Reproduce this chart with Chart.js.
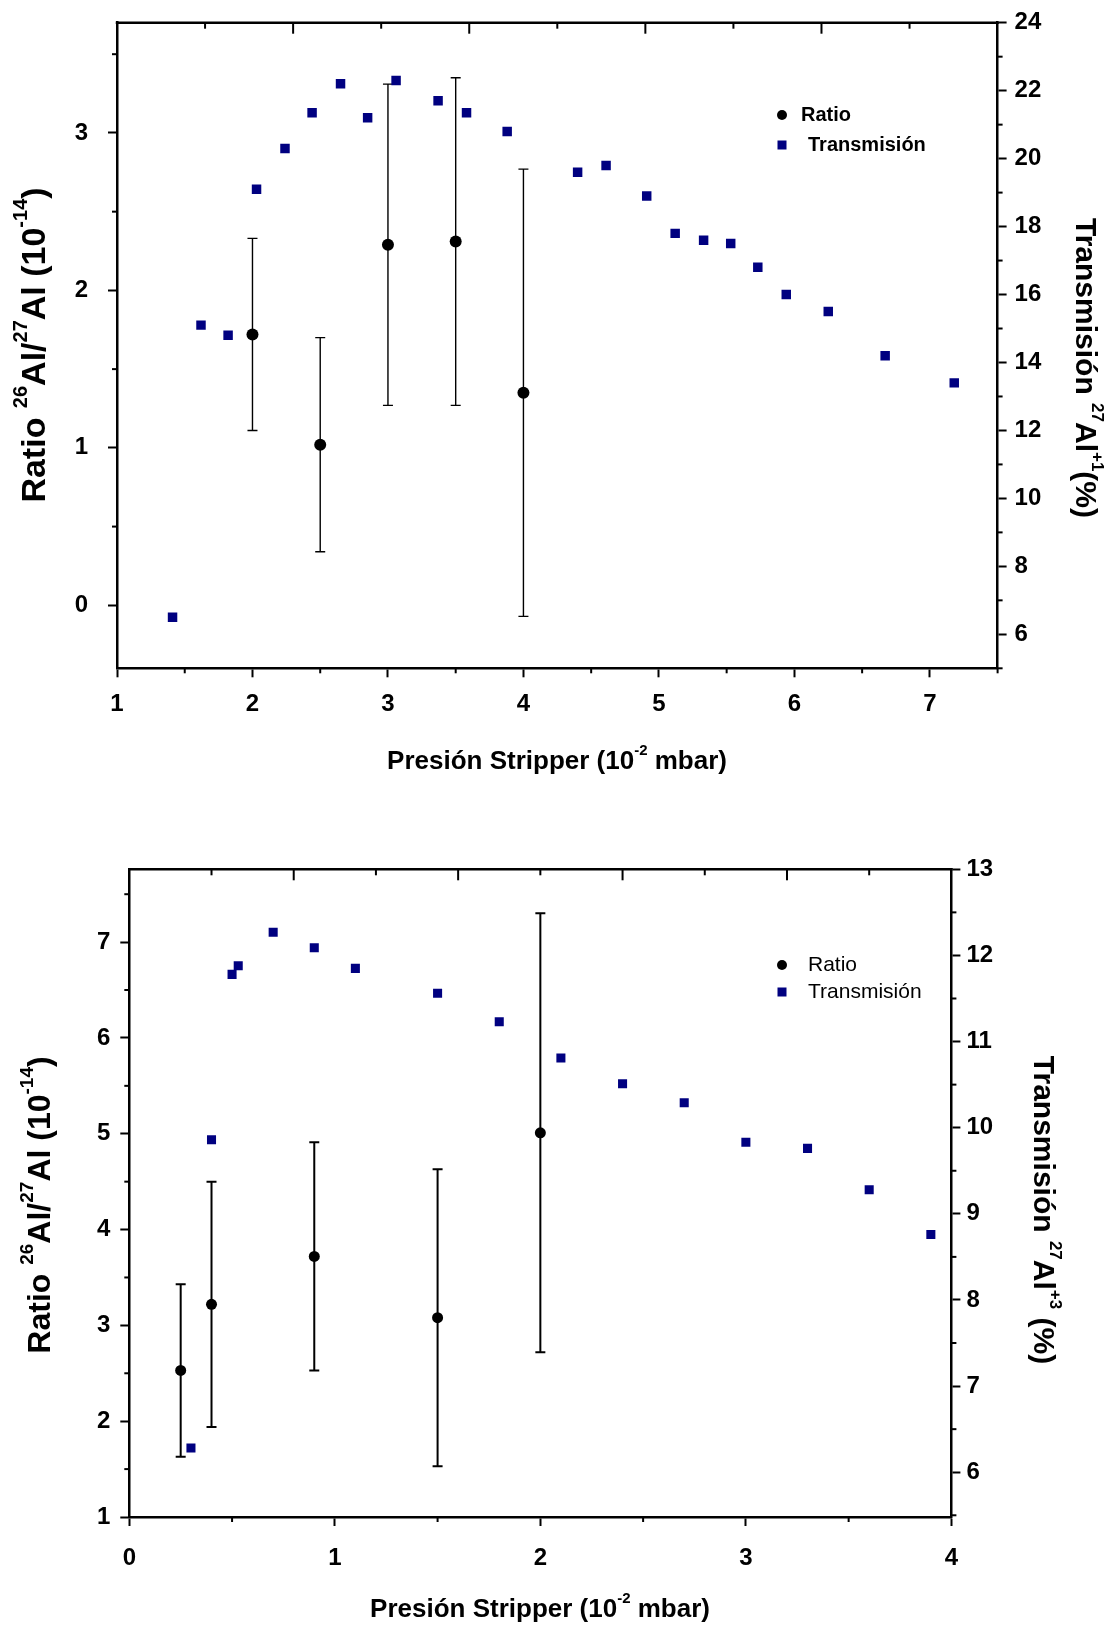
<!DOCTYPE html>
<html>
<head>
<meta charset="utf-8">
<script src="https://cdn.jsdelivr.net/npm/chart.js@4.4.1/dist/chart.umd.min.js"></script>
<style>
  body { margin: 0; background: #fff; }
  canvas { display: block; }
</style>
</head>
<body>
<canvas id="chartTop" width="1115" height="800"></canvas>
<canvas id="chartBottom" width="1115" height="827"></canvas>
<script>
// ---- data: upper panel (27Al+1) ----
const topRatioX   = [2.0, 2.5, 3.0, 3.5, 4.0];
const topRatio    = [1.72, 1.02, 2.29, 2.31, 1.35];
const topRatioErr = [0.61, 0.68, 1.02, 1.04, 1.42];
const topTransX   = [1.41, 1.62, 1.82, 2.03, 2.24, 2.44, 2.65, 2.85, 3.06, 3.37, 3.58, 3.88,
                     4.40, 4.61, 4.91, 5.12, 5.33, 5.53, 5.73, 5.94, 6.25, 6.67, 7.18];
const topTrans    = [6.5, 15.1, 14.8, 19.1, 20.3, 21.35, 22.2, 21.2, 22.3, 21.7, 21.35, 20.8,
                     19.6, 19.8, 18.9, 17.8, 17.6, 17.5, 16.8, 16.0, 15.5, 14.2, 13.4];
const topXTicks   = [1, 2, 3, 4, 5, 6, 7];
const topYTicks   = [0, 1, 2, 3];
const topY1Ticks  = [6, 8, 10, 12, 14, 16, 18, 20, 22, 24];

// ---- data: lower panel (27Al+3) ----
const botRatioX   = [0.25, 0.4, 0.9, 1.5, 2.0];
const botRatio    = [2.53, 3.22, 3.72, 3.08, 5.01];
const botRatioErr = [0.90, 1.28, 1.19, 1.55, 2.29];
const botTransX   = [0.3, 0.4, 0.5, 0.53, 0.7, 0.9, 1.1, 1.5, 1.8, 2.1, 2.4, 2.7, 3.0, 3.3, 3.6, 3.9];
const botTrans    = [6.28, 9.86, 11.78, 11.88, 12.27, 12.09, 11.85, 11.56, 11.23, 10.81, 10.51,
                     10.29, 9.83, 9.76, 9.28, 8.76];
const botXTicks   = [0, 1, 2, 3, 4];
const botYTicks   = [1, 2, 3, 4, 5, 6, 7];
const botY1Ticks  = [6, 7, 8, 9, 10, 11, 12, 13];

// axis titles, split so the superscripts can be raised
const xTitle = [{t: 'Presión Stripper (10'}, {t: '-2', sup: true}, {t: ' mbar)'}];
const yTitle = [{t: 'Ratio '}, {t: '26', sup: true}, {t: 'Al/'}, {t: '27', sup: true},
                {t: 'Al (10'}, {t: '-14', sup: true}, {t: ')'}];
const y1TitleTop = [{t: 'Transmisión '}, {t: '27', sup: true}, {t: 'Al'}, {t: '+1', sup: true}, {t: '(%)'}];
const y1TitleBot = [{t: 'Transmisión '}, {t: '27', sup: true}, {t: 'Al'}, {t: '+3', sup: true}, {t: ' (%)'}];

const FAMILY = '"Liberation Sans", Arial, sans-serif';
const NAVY = '#000080';

function drawRich(ctx, parts, size, x, y, angle) {
  ctx.save();
  ctx.translate(x, y);
  ctx.rotate(angle);
  ctx.textBaseline = 'middle';
  ctx.textAlign = 'left';
  ctx.fillStyle = '#000';
  const fontOf = p => 'bold ' + (p.sup ? Math.round(size * 0.58) : size) + 'px ' + FAMILY;
  let total = 0;
  parts.forEach(p => { ctx.font = fontOf(p); total += ctx.measureText(p.t).width; });
  let cx = -total / 2;
  parts.forEach(p => {
    ctx.font = fontOf(p);
    ctx.fillText(p.t, cx, p.sup ? -size * 0.42 : 0);
    cx += ctx.measureText(p.t).width;
  });
  ctx.restore();
}

// minor ticks, inward top ticks, top border, error bars, legend and titles
function makeDecor(spec) {
  return {
    id: 'decor',
    beforeDatasetsDraw(chart) {
      const ctx = chart.ctx, x = chart.scales.x, y = chart.scales.y;
      ctx.save();
      ctx.strokeStyle = '#000';
      ctx.lineWidth = spec.errWidth;
      spec.ratioX.forEach((xv, i) => {
        const px = x.getPixelForValue(xv);
        const top = y.getPixelForValue(spec.ratio[i] + spec.err[i]);
        const bot = y.getPixelForValue(spec.ratio[i] - spec.err[i]);
        ctx.beginPath();
        ctx.moveTo(px, top); ctx.lineTo(px, bot);
        ctx.moveTo(px - 5, top); ctx.lineTo(px + 5, top);
        ctx.moveTo(px - 5, bot); ctx.lineTo(px + 5, bot);
        ctx.stroke();
      });
      ctx.restore();
    },
    afterDraw(chart) {
      const ctx = chart.ctx, a = chart.chartArea;
      const x = chart.scales.x, y = chart.scales.y, y1 = chart.scales.y1;
      ctx.save();
      ctx.strokeStyle = '#000';
      ctx.lineWidth = 2.5;
      // top border
      ctx.beginPath();
      ctx.moveTo(a.left - 1.25, a.top); ctx.lineTo(a.right + 1.25, a.top);
      ctx.stroke();
      // inward ticks on the top border, 10 divisions
      ctx.lineWidth = 2;
      for (let k = 1; k < 10; k++) {
        const px = a.left + (a.right - a.left) * k / 10;
        ctx.beginPath();
        ctx.moveTo(px, a.top); ctx.lineTo(px, a.top + (k % 2 ? 6 : 11));
        ctx.stroke();
      }
      // minor ticks
      const minor = (scale, step, fn) => {
        const start = Math.ceil((scale.min - step / 2) / step) * step + step / 2;
        for (let v = start; v <= scale.max + 1e-9; v += step) fn(scale.getPixelForValue(v));
      };
      minor(x, 1, px => { ctx.beginPath(); ctx.moveTo(px, a.bottom); ctx.lineTo(px, a.bottom + 5); ctx.stroke(); });
      minor(y, 1, py => { ctx.beginPath(); ctx.moveTo(a.left, py); ctx.lineTo(a.left - 5, py); ctx.stroke(); });
      minor(y1, spec.y1Step, py => { ctx.beginPath(); ctx.moveTo(a.right, py); ctx.lineTo(a.right + 5, py); ctx.stroke(); });

      // legend
      const lg = spec.legend;
      ctx.fillStyle = '#000';
      ctx.beginPath();
      ctx.arc(lg.x, lg.y1, 5, 0, Math.PI * 2);
      ctx.fill();
      ctx.fillStyle = NAVY;
      ctx.fillRect(lg.x - 4.5, lg.y2 - 4.5, 9, 9);
      ctx.fillStyle = '#000';
      ctx.font = lg.font;
      ctx.textBaseline = 'middle';
      ctx.textAlign = 'left';
      ctx.fillText('Ratio', lg.tx1, lg.y1);
      ctx.fillText('Transmisión', lg.tx2, lg.y2);
      ctx.restore();

      // axis titles
      const t = spec.titles;
      drawRich(ctx, xTitle, t.xSize, t.xx, t.xy, 0);
      drawRich(ctx, yTitle, t.ySize, t.yx, t.yy, -Math.PI / 2);
      drawRich(ctx, spec.y1Title, t.y1Size, t.y1x, t.y1y, Math.PI / 2);
    }
  };
}

function axis(position, min, max, ticks, fitSize, padding) {
  return {
    type: 'linear',
    position: position,
    min: min,
    max: max,
    afterBuildTicks: s => { s.ticks = ticks.map(v => ({value: v})); },
    afterFit: s => {
      if (position === 'bottom') s.height = fitSize; else s.width = fitSize;
      // keep the plot box exactly where the layout puts it
      s.paddingTop = 0; s.paddingBottom = 0; s.paddingLeft = 0; s.paddingRight = 0;
    },
    grid: {display: true, drawOnChartArea: false, drawTicks: true, tickLength: 9,
           tickWidth: 2, tickColor: '#000'},
    border: {display: true, color: '#000', width: 2.5},
    ticks: {color: '#000', padding: padding, autoSkip: false, maxRotation: 0,
            font: {family: FAMILY, size: 24, weight: 'bold'}}
  };
}

function makeChart(id, spec) {
  new Chart(document.getElementById(id), {
    type: 'scatter',
    data: {
      datasets: [
        {
          label: 'Ratio',
          data: spec.ratioX.map((v, i) => ({x: v, y: spec.ratio[i]})),
          yAxisID: 'y',
          pointStyle: 'circle',
          pointRadius: spec.circleR,
          backgroundColor: '#000',
          borderColor: '#000',
          borderWidth: 0
        },
        {
          label: 'Transmisión',
          data: spec.transX.map((v, i) => ({x: v, y: spec.trans[i]})),
          yAxisID: 'y1',
          pointStyle: 'rect',
          pointRadius: spec.rectR,
          backgroundColor: NAVY,
          borderColor: NAVY,
          borderWidth: 0
        }
      ]
    },
    options: {
      responsive: false,
      animation: false,
      events: [],
      layout: {autoPadding: false, padding: {top: spec.area.top, left: 0, right: 0, bottom: 0}},
      plugins: {legend: {display: false}, tooltip: {enabled: false}},
      scales: {
        x: axis('bottom', spec.xRange[0], spec.xRange[1], spec.xTicks, spec.area.xH, spec.pad.x),
        y: axis('left', spec.yRange[0], spec.yRange[1], spec.yTicks, spec.area.left, spec.pad.y),
        y1: axis('right', spec.y1Range[0], spec.y1Range[1], spec.y1Ticks, spec.area.y1W, spec.pad.y1)
      }
    },
    plugins: [makeDecor(spec)]
  });
}

makeChart('chartTop', {
  ratioX: topRatioX, ratio: topRatio, err: topRatioErr,
  transX: topTransX, trans: topTrans,
  xTicks: topXTicks, yTicks: topYTicks, y1Ticks: topY1Ticks,
  xRange: [1, 7.5], yRange: [-0.4, 3.7], y1Range: [5, 24], y1Step: 2,
  area: {top: 22.7, left: 117, y1W: 1115 - 997.6, xH: 800 - 668.3},
  pad: {x: 13, y: 20, y1: 8},
  circleR: 6, rectR: 6.7, errWidth: 1.4,
  legend: {x: 782, y1: 115, y2: 145, tx1: 801, tx2: 808, font: 'bold 20px ' + FAMILY},
  titles: {xSize: 26, ySize: 34, y1Size: 30, xx: 557, xy: 762, yx: 36, yy: 345, y1x: 1084, y1y: 368},
  y1Title: y1TitleTop
});

makeChart('chartBottom', {
  ratioX: botRatioX, ratio: botRatio, err: botRatioErr,
  transX: botTransX, trans: botTrans,
  xTicks: botXTicks, yTicks: botYTicks, y1Ticks: botY1Ticks,
  xRange: [0, 4], yRange: [1, 7.76], y1Range: [5.48, 13], y1Step: 1,
  area: {top: 69.3, left: 129.3, y1W: 1115 - 951.4, xH: 827 - 717},
  pad: {x: 18, y: 10, y1: 6},
  circleR: 5.5, rectR: 6.4, errWidth: 2,
  legend: {x: 782, y1: 165, y2: 192, tx1: 808, tx2: 808, font: '21px ' + FAMILY},
  titles: {xSize: 26, ySize: 32, y1Size: 30, xx: 540, xy: 810, yx: 41, yy: 405, y1x: 1042, y1y: 410},
  y1Title: y1TitleBot
});
</script>
</body>
</html>
